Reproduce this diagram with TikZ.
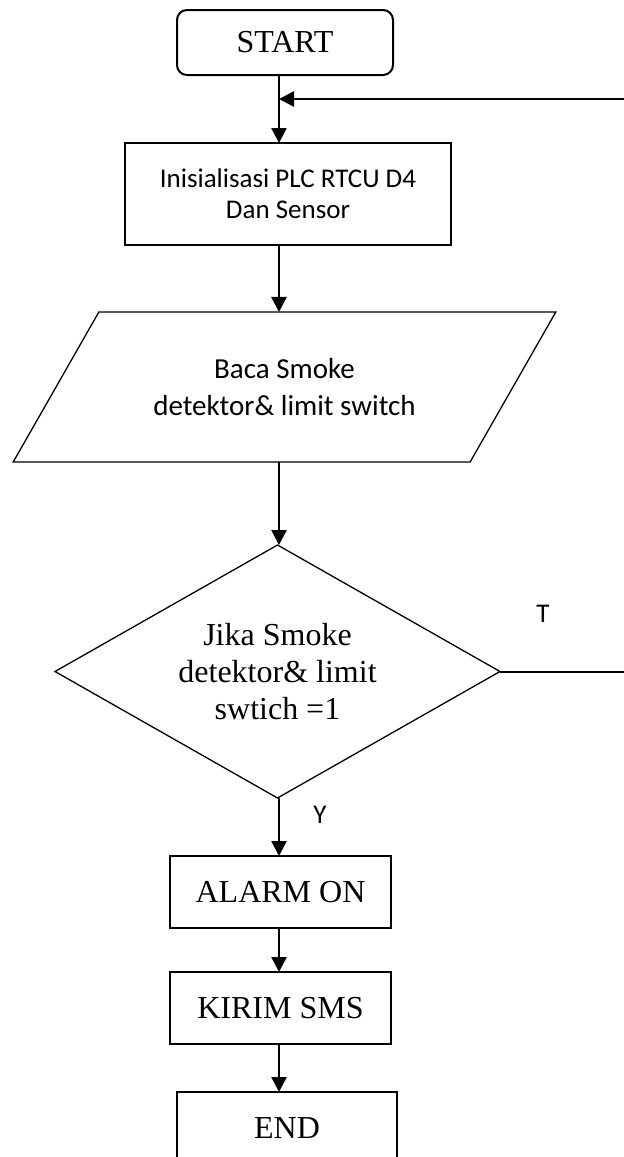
\documentclass[tikz,border=0pt]{standalone}
\usepackage{fontspec}
\setmainfont{Liberation Serif}
\newfontfamily\calibri{Carlito}
\usetikzlibrary{shapes.geometric,arrows.meta}

\begin{document}
\begin{tikzpicture}[x=0.5pt, y=-0.5pt,
  box/.style={draw, line width=1pt, outer sep=0pt, align=center},
  flow/.style={line width=1.3pt, -{Triangle[length=7.5pt,width=7.5pt]}},
  serif/.style={font=\fontsize{16}{18.5}\selectfont},
  sans/.style={font=\calibri\fontsize{13.5}{15.5}\selectfont}]
  \useasboundingbox (0,0) rectangle (624,1157);
  \coordinate (spine) at (279,0);
  \coordinate (rim) at (624,0);

  % Start and setup
  \node[box, serif, rounded corners=5pt, minimum width=108pt, minimum height=32.5pt] (start) at (285,42.5) {START};
  \node[box, sans, minimum width=163pt, minimum height=51pt] (init) at (288,194) {Inisialisasi PLC RTCU D4\\Dan Sensor};

  % Read sensors
  \node[draw, line width=0.65pt, outer sep=0pt, align=center, trapezium, trapezium left angle=48, trapezium right angle=132,
    trapezium stretches=true, minimum width=271.5pt, minimum height=75pt,
    font=\calibri\fontsize{14.5}{18.5}\selectfont] (baca) at (284.5,387) {Baca Smoke\\detektor\& limit switch};

  % Decision
  \node[draw, line width=0.65pt, outer sep=0pt, align=center, diamond, aspect=1.76, inner sep=1pt,
    minimum width=222.5pt, minimum height=126.5pt, serif] (cek) at (277.5,671.5) {Jika Smoke\\detektor\& limit\\swtich =1};
  \node[sans] (lblT) at (543,614) {T};
  \node[sans] (lblY) at (320,815) {Y};

  % Actions
  \node[box, serif, minimum width=110.5pt, minimum height=36pt] (alarm) at (280.5,892) {ALARM ON};
  \node[box, serif, minimum width=110.5pt, minimum height=36pt] (sms) at (280.5,1008) {KIRIM SMS};
  \node[box, serif, minimum width=110pt, minimum height=36pt] (end) at (287,1128) {END};

  % Main flow
  \draw[flow] (start.south -| spine) -- (init.north -| spine);
  \draw[flow] (init.south -| spine) -- (baca.north -| spine);
  \draw[flow] (baca.south -| spine) -- (cek.north -| spine);
  \draw[flow] (cek.south -| spine) -- (alarm.north -| spine);
  \draw[flow] (alarm.south -| spine) -- (sms.north -| spine);
  \draw[flow] (sms.south -| spine) -- (end.north -| spine);

  % Loop back
  \coordinate (tout) at (rim |- cek.east);
  \coordinate (back) at (624,99);
  \coordinate (join) at (spine |- back);
  \draw[line width=1pt] (cek.east) -- (tout);
  \draw[flow] (back) -- (join);
\end{tikzpicture}
\end{document}
